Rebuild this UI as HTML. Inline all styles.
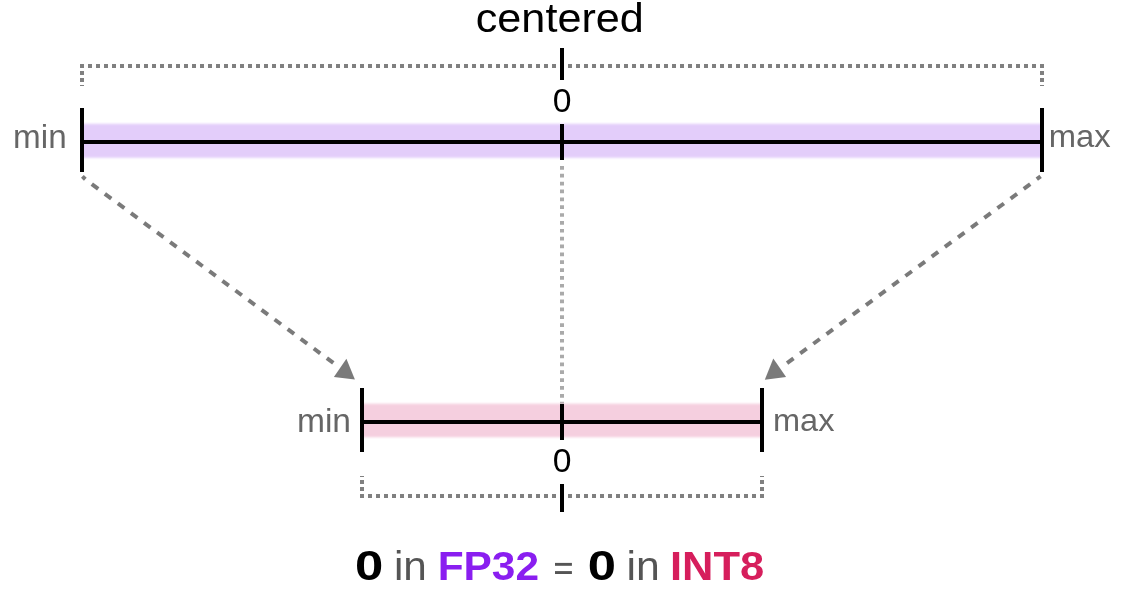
<!DOCTYPE html>
<html>
<head>
<meta charset="utf-8">
<style>
html,body{margin:0;padding:0;background:#fff;width:1124px;height:600px;overflow:hidden;}
svg{display:block;will-change:transform;}
text{font-family:"Liberation Sans", sans-serif;}
</style>
</head>
<body>
<svg width="1124" height="600" viewBox="0 0 1124 600">
  <defs>
    <filter id="bl" x="-5%" y="-50%" width="110%" height="200%"><feGaussianBlur stdDeviation="1.1"/></filter>
  </defs>
  <rect width="1124" height="600" fill="#fff"/>

  <!-- title -->

  <!-- top dotted bracket -->
  <line x1="80" y1="66" x2="1044" y2="66" stroke="#808080" stroke-width="4" stroke-dasharray="4 4"/>
  <line x1="82" y1="64" x2="82" y2="86" stroke="#808080" stroke-width="4" stroke-dasharray="4 3"/>
  <line x1="1042" y1="64" x2="1042" y2="86" stroke="#808080" stroke-width="4" stroke-dasharray="4 3"/>
  <rect x="560" y="48" width="4" height="32" fill="#000"/>

  <!-- top 0 -->

  <!-- top bar -->
  <rect x="82" y="123.8" width="960" height="34" fill="#e3cdfa" filter="url(#bl)"/>
  <rect x="82" y="140" width="960" height="4" fill="#000"/>
  <rect x="80" y="108" width="4" height="64" fill="#000"/>
  <rect x="1040" y="108" width="4" height="64" fill="#000"/>
  <rect x="560" y="124" width="4" height="36" fill="#000"/>

  <!-- vertical center dotted -->
  <line x1="562" y1="166" x2="562" y2="404" stroke="#aaa" stroke-width="4" stroke-dasharray="3.7 4.16"/>

  <!-- arrows -->
  <g stroke="#7a7a7a" stroke-width="4"><line x1="82.4" y1="176.4" x2="85.3" y2="179.2"/><line x1="91.79" y1="184.12" x2="98.21" y2="188.88"/><line x1="104.85" y1="193.79" x2="111.27" y2="198.55"/><line x1="117.91" y1="203.46" x2="124.33" y2="208.22"/><line x1="130.97" y1="213.13" x2="137.39" y2="217.89"/><line x1="144.03" y1="222.80" x2="150.45" y2="227.56"/><line x1="157.09" y1="232.47" x2="163.51" y2="237.23"/><line x1="170.15" y1="242.14" x2="176.57" y2="246.90"/><line x1="183.21" y1="251.81" x2="189.63" y2="256.57"/><line x1="196.27" y1="261.48" x2="202.69" y2="266.24"/><line x1="209.33" y1="271.15" x2="215.75" y2="275.91"/><line x1="222.39" y1="280.82" x2="228.81" y2="285.58"/><line x1="235.45" y1="290.49" x2="241.87" y2="295.25"/><line x1="248.51" y1="300.16" x2="254.93" y2="304.92"/><line x1="261.57" y1="309.83" x2="267.99" y2="314.59"/><line x1="274.63" y1="319.50" x2="281.05" y2="324.26"/><line x1="287.69" y1="329.17" x2="294.11" y2="333.93"/><line x1="300.75" y1="338.84" x2="307.17" y2="343.60"/><line x1="313.81" y1="348.51" x2="320.23" y2="353.27"/><line x1="326.87" y1="358.18" x2="333.29" y2="362.94"/></g>
  <g stroke="#7a7a7a" stroke-width="4"><line x1="1040.6" y1="176.4" x2="1036.8" y2="179.2"/><line x1="1030.22" y1="184.13" x2="1023.78" y2="188.87"/><line x1="1017.07" y1="193.81" x2="1010.63" y2="198.55"/><line x1="1003.92" y1="203.49" x2="997.48" y2="208.23"/><line x1="990.77" y1="213.17" x2="984.33" y2="217.91"/><line x1="977.62" y1="222.85" x2="971.18" y2="227.59"/><line x1="964.47" y1="232.53" x2="958.03" y2="237.27"/><line x1="951.32" y1="242.21" x2="944.88" y2="246.95"/><line x1="938.17" y1="251.89" x2="931.73" y2="256.63"/><line x1="925.02" y1="261.57" x2="918.58" y2="266.31"/><line x1="911.87" y1="271.25" x2="905.43" y2="275.99"/><line x1="898.72" y1="280.93" x2="892.28" y2="285.67"/><line x1="885.57" y1="290.61" x2="879.13" y2="295.35"/><line x1="872.42" y1="300.29" x2="865.98" y2="305.03"/><line x1="859.27" y1="309.97" x2="852.83" y2="314.71"/><line x1="846.12" y1="319.65" x2="839.68" y2="324.39"/><line x1="832.97" y1="329.33" x2="826.53" y2="334.07"/><line x1="819.82" y1="339.01" x2="813.38" y2="343.75"/><line x1="806.67" y1="348.69" x2="800.23" y2="353.43"/><line x1="793.52" y1="358.37" x2="787.08" y2="363.11"/></g>
  <polygon points="346.4,358.8 333.9,376.9 354.9,379.5" fill="#7a7a7a"/>
  <polygon points="773.3,358.5 764.8,379.8 786.1,376.9" fill="#7a7a7a"/>

  <!-- bottom bar -->
  <rect x="362" y="403.7" width="400" height="33.5" fill="#f5cfdf" filter="url(#bl)"/>
  <rect x="362" y="420" width="400" height="4" fill="#000"/>
  <rect x="360" y="388" width="4" height="64" fill="#000"/>
  <rect x="760" y="388" width="4" height="64" fill="#000"/>
  <rect x="560" y="404" width="4" height="36" fill="#000"/>

  <!-- bottom 0 -->

  <!-- bottom dotted bracket -->
  <line x1="360" y1="496" x2="764" y2="496" stroke="#808080" stroke-width="4" stroke-dasharray="4 4"/>
  <line x1="362" y1="498" x2="362" y2="476" stroke="#808080" stroke-width="4" stroke-dasharray="4 3"/>
  <line x1="762" y1="498" x2="762" y2="476" stroke="#808080" stroke-width="4" stroke-dasharray="4 3"/>
  <rect x="560" y="484" width="4" height="28" fill="#000"/>

  <!-- formula -->
  <!-- texts -->
  <text transform="matrix(1.0837 0 0 1 475.76 31.90)" font-size="39.86" fill="#000">centered</text>
  <text transform="matrix(1.0220 0 0 1 552.65 111.57)" font-size="32.96" fill="#000">0</text>
  <text transform="matrix(1.0220 0 0 1 552.65 471.57)" font-size="32.96" fill="#000">0</text>
  <text transform="matrix(1.0201 0 0 1 13.09 147.75)" font-size="32.62" fill="#666">min</text>
  <text transform="matrix(1.0152 0 0 1 1048.67 147.43)" font-size="32.27" fill="#666">max</text>
  <text transform="matrix(1.0294 0 0 1 296.92 431.75)" font-size="32.62" fill="#666">min</text>
  <text transform="matrix(1.0083 0 0 1 772.98 431.43)" font-size="32.27" fill="#666">max</text>
  <text transform="matrix(1.1874 0 0 1 355.07 580.37)" font-size="42.82" font-weight="bold" fill="#000">0</text>
  <text transform="matrix(1.0224 0 0 1 393.95 580.00)" font-size="41.38" fill="#555">in</text>
  <text transform="matrix(1.0276 0 0 1 437.64 579.69)" font-size="41.27" font-weight="bold" fill="#8a1ef0">FP32</text>
  <rect x="555" y="562.9" width="16.9" height="2.9" fill="#555"/><rect x="555" y="571.1" width="16.9" height="2.9" fill="#555"/>
  <text transform="matrix(1.1811 0 0 1 587.77 580.17)" font-size="42.96" font-weight="bold" fill="#000">0</text>
  <text transform="matrix(1.0336 0 0 1 626.52 580.00)" font-size="41.38" fill="#555">in</text>
  <text transform="matrix(1.0536 0 0 1 669.97 579.69)" font-size="41.27" font-weight="bold" fill="#d61e5c">INT8</text>
</svg>
</body>
</html>
